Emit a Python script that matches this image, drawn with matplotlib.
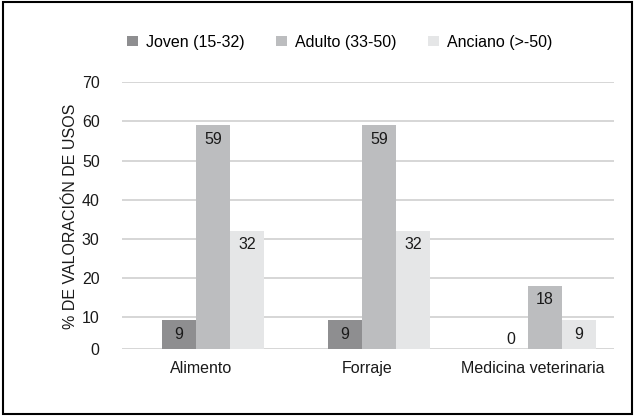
import numpy as np
import matplotlib
matplotlib.use("Agg")
import matplotlib.pyplot as plt
from matplotlib.patches import Patch, Rectangle

categorias = ["Alimento", "Forraje", "Medicina veterinaria"]
series = ["Joven (15-32)", "Adulto (33-50)", "Anciano (>-50)"]
joven = [9, 9, 0]
adulto = [59, 59, 18]
anciano = [32, 32, 9]
colores = ["#8e8e90", "#bcbdbf", "#e5e6e7"]
yticks = [0, 10, 20, 30, 40, 50, 60, 70]

# the original axis squeezes the 0-10 band
k = 0.834


def fwd(v):
    v = np.asarray(v, dtype=float)
    return np.where(v < 10, v * k, v - 10 + 10 * k)


def inv(y):
    y = np.asarray(y, dtype=float)
    return np.where(y < 10 * k, y / k, y + 10 - 10 * k)


plt.rcParams["font.family"] = ["Liberation Sans", "DejaVu Sans"]
fs = 11.5
fig = plt.figure(figsize=(6.35, 4.16), dpi=100)
ax = fig.add_axes([0.192, 0.160, 0.775, 0.642])
ax.set_yscale("function", functions=(fwd, inv))

x = np.arange(len(categorias))
w = 0.205
shift = 0.072
for i, (vals, col) in enumerate(zip([joven, adulto, anciano], colores)):
    pos = x + shift + (i - 1) * w
    ax.bar(pos, vals, width=w, color=col, zorder=2)
    for p, v in zip(pos, vals):
        off = -14 if v > 0 else 10
        ax.annotate(str(v), (p, v), xytext=(0, off), textcoords="offset pixels",
                    ha="center", va="center", fontsize=fs, color="#1a1a1a", zorder=3)

ax.set_ylim(0, 70)
ax.set_xlim(-0.476, 2.488)
ax.set_yticks(yticks)
ax.set_xticks(x)
ax.set_xticklabels(categorias)
ax.yaxis.grid(True, color="#d0d0d0", linewidth=1.2, zorder=0)
ax.tick_params(axis="both", length=0, labelsize=fs, colors="#1a1a1a")
ax.tick_params(axis="x", pad=8)
ax.tick_params(axis="y", pad=16)
for s in ax.spines.values():
    s.set_visible(False)
ax.set_ylabel("% DE VALORACIÓN DE USOS", fontsize=fs, color="#1a1a1a", labelpad=3)

handles = [Patch(facecolor=c, edgecolor="none") for c in colores]
fig.legend(handles, series, loc="center", bbox_to_anchor=(0.535, 0.899), ncol=3,
           frameon=False, fontsize=fs, handlelength=0.65, handleheight=0.65,
           handletextpad=0.5, columnspacing=2.0)

fig.add_artist(Rectangle((0.004, 0.005), 0.992, 0.99, transform=fig.transFigure,
                         fill=False, edgecolor="black", linewidth=1.5))

fig.savefig("out.png", dpi=100)
